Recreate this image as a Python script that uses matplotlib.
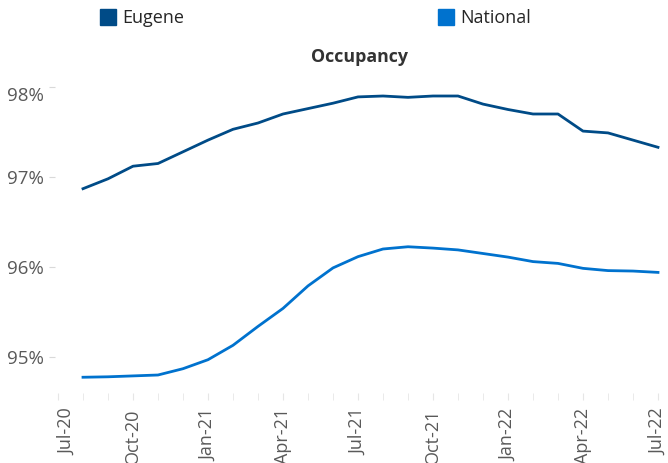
import matplotlib
matplotlib.use("Agg")
import matplotlib.pyplot as plt
import matplotlib.ticker as mticker
import matplotlib.transforms as mtrans
from matplotlib.lines import Line2D

# Data (monthly, Aug-20 .. Jul-22)
months = ["Aug-20", "Sep-20", "Oct-20", "Nov-20", "Dec-20", "Jan-21", "Feb-21", "Mar-21",
          "Apr-21", "May-21", "Jun-21", "Jul-21", "Aug-21", "Sep-21", "Oct-21", "Nov-21",
          "Dec-21", "Jan-22", "Feb-22", "Mar-22", "Apr-22", "May-22", "Jun-22", "Jul-22"]
eugene = [96.87, 96.98, 97.12, 97.15, 97.28, 97.41, 97.53, 97.60, 97.70, 97.76, 97.82, 97.89,
          97.90, 97.885, 97.90, 97.90, 97.81, 97.75, 97.70, 97.70, 97.51, 97.49, 97.41, 97.33]
national = [94.775, 94.78, 94.79, 94.80, 94.87, 94.97, 95.13, 95.34, 95.54, 95.79, 95.99, 96.115,
            96.20, 96.225, 96.21, 96.19, 96.15, 96.11, 96.06, 96.04, 95.985, 95.96, 95.955, 95.94]
tick_labels = ["Jul-20", "Oct-20", "Jan-21", "Apr-21", "Jul-21", "Oct-21", "Jan-22", "Apr-22", "Jul-22"]

dark = "#004B87"
light = "#0072CE"
grey = "#595959"

plt.rcParams['font.family'] = ['Open Sans', 'DejaVu Sans']

fig = plt.figure(figsize=(6.68, 4.63), dpi=100)
ax = fig.add_axes([55 / 668, 70 / 463, 608 / 668, 306 / 463])

x = list(range(1, len(months) + 1))  # 0 = Jul-20
ax.plot(x, eugene, color=dark, lw=2.0, solid_joinstyle="round")
ax.plot(x, national, color=light, lw=2.0, solid_joinstyle="round")

ax.set_xlim(-0.12, 24.2)
ax.set_ylim(94.6, 98.0)

ax.set_xticks(range(0, 25, 3))
ax.set_xticklabels(tick_labels, rotation=90, color=grey, fontsize=13)
ax.set_xticks(range(0, 25), minor=True)
ax.set_yticks([95, 96, 97, 98])
ax.yaxis.set_major_formatter(mticker.FuncFormatter(lambda v, p: "%d%%" % v))
ax.tick_params(axis="y", colors="#d9d9d9", labelcolor=grey, labelsize=13.5, length=4, pad=4)
ax.tick_params(axis="x", which="both", colors="#e6e6e6", labelcolor=grey, length=5, pad=6)

# first x label and top y label are nudged inward like in the original
fig.canvas.draw()
xl = ax.get_xticklabels()[0]
xl.set_transform(xl.get_transform() + mtrans.ScaledTranslation(9 / 100, 0, fig.dpi_scale_trans))
yl = ax.get_yticklabels()[-1]
yl.set_transform(yl.get_transform() + mtrans.ScaledTranslation(0, -7 / 100, fig.dpi_scale_trans))

for s in ax.spines.values():
    s.set_visible(False)

ax.set_title("Occupancy", fontsize=12.8, fontweight="bold", color="#333333", pad=18)

handles = [Line2D([], [], marker="s", ls="", color=dark, markersize=11),
           Line2D([], [], marker="s", ls="", color=light, markersize=11)]
leg = fig.legend(handles, ["Eugene", "National"], loc="upper left", bbox_to_anchor=(88 / 668, 1.0),
                 ncol=2, frameon=False, fontsize=13, columnspacing=13.9, handletextpad=0.2,
                 handlelength=1.2, borderaxespad=0.1)
for t in leg.get_texts():
    t.set_color("#262626")

fig.savefig("out.png", dpi=100)
